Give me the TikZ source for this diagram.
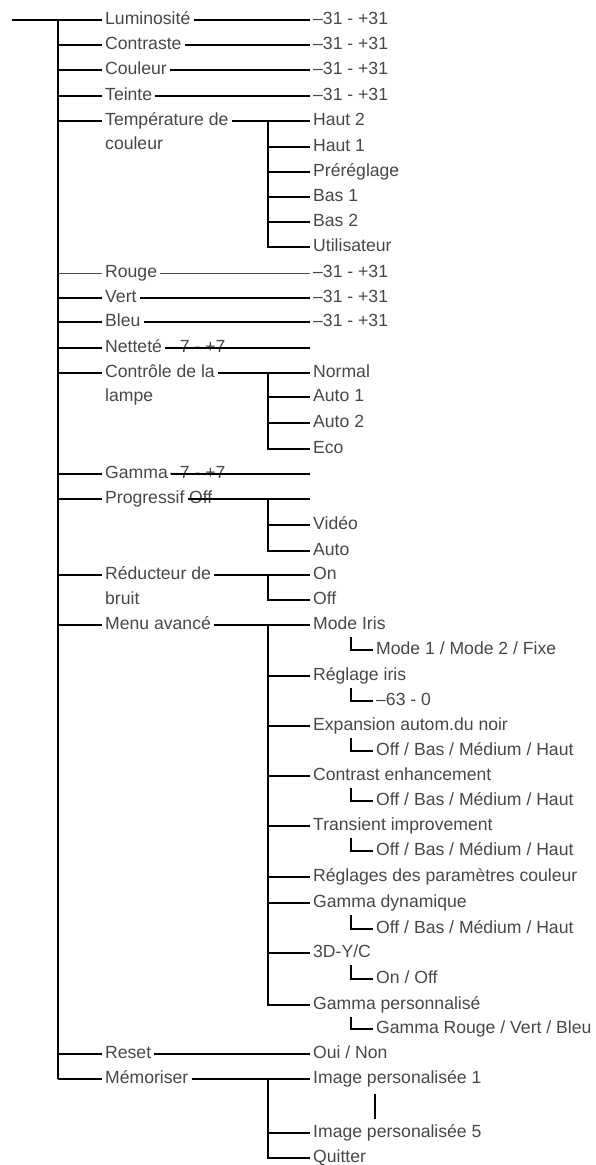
\documentclass[tikz,border=0pt]{standalone}
\usepackage{fontspec}
\setmainfont{Liberation Sans}
\begin{document}
\fontsize{17.6}{20}\selectfont
\begin{tikzpicture}[x=1pt,y=-1pt,
  lbl/.style={anchor=mid west,inner xsep=3pt,inner ysep=0pt,text=black!72,font=\fontsize{17.6}{20}\selectfont},
  ln/.style={draw=black,line width=1.8pt},
  lnthin/.style={draw=black!70,line width=0.9pt}]
\useasboundingbox (0,0) rectangle (596,1165);
% ---- main labels
\node[lbl] (lum) at (102,20) {Luminosité};
\node[lbl] (con) at (102,45) {Contraste};
\node[lbl] (cou) at (102,70) {Couleur};
\node[lbl] (tei) at (102,96) {Teinte};
\node[lbl] (tem) at (102,121) {Température de};
\node[lbl] (tem2) at (102,145) {couleur};
\node[lbl] (rou) at (102,273) {Rouge};
\node[lbl] (ver) at (102,298) {Vert};
\node[lbl] (ble) at (102,322) {Bleu};
\node[lbl] (net) at (102,348) {Netteté};
\node[lbl] (netv) at (167,348) {–7 - +7};
\node[lbl] (ctl) at (102,373) {Contrôle de la};
\node[lbl] (ctl2) at (102,397) {lampe};
\node[lbl] (gam) at (102,474) {Gamma};
\node[lbl] (gamv) at (167,474) {–7 - +7};
\node[lbl] (pro) at (102,499) {Progressif};
\node[lbl] (prov) at (186,499) {Off};
\node[lbl] (red) at (102,575) {Réducteur de};
\node[lbl] (red2) at (102,600) {bruit};
\node[lbl] (men) at (102,625) {Menu avancé};
\node[lbl] (res) at (102,1054) {Reset};
\node[lbl] (mem) at (102,1079) {Mémoriser};
% ---- values
\node[lbl] (vlum) at (310,20) {–31 - +31};
\node[lbl] (vcon) at (310,45) {–31 - +31};
\node[lbl] (vcou) at (310,70) {–31 - +31};
\node[lbl] (vtei) at (310,96) {–31 - +31};
\node[lbl] (h2) at (310,121) {Haut 2};
\node[lbl] (h1) at (310,147) {Haut 1};
\node[lbl] (pre) at (310,172) {Préréglage};
\node[lbl] (b1) at (310,197) {Bas 1};
\node[lbl] (b2) at (310,222) {Bas 2};
\node[lbl] (uti) at (310,247) {Utilisateur};
\node[lbl] (vrou) at (310,273) {–31 - +31};
\node[lbl] (vver) at (310,298) {–31 - +31};
\node[lbl] (vble) at (310,322) {–31 - +31};
\node[lbl] (nor) at (310,373) {Normal};
\node[lbl] (au1) at (310,397) {Auto 1};
\node[lbl] (au2) at (310,423) {Auto 2};
\node[lbl] (eco) at (310,449) {Eco};
\node[lbl] (vid) at (310,525) {Vidéo};
\node[lbl] (aut) at (310,551) {Auto};
\node[lbl] (on) at (310,575) {On};
\node[lbl] (off) at (310,600) {Off};
\node[lbl] (mi) at (310,625) {Mode Iris};
\node[lbl] (mi2) at (373,650) {Mode 1 / Mode 2 / Fixe};
\node[lbl] (ri) at (310,676) {Réglage iris};
\node[lbl] (ri2) at (373,701) {–63 - 0};
\node[lbl] (ex) at (310,726) {Expansion autom.du noir};
\node[lbl] (ex2) at (373,751) {Off / Bas / Médium / Haut};
\node[lbl] (ce) at (310,776) {Contrast enhancement};
\node[lbl] (ce2) at (373,801) {Off / Bas / Médium / Haut};
\node[lbl] (ti) at (310,826) {Transient improvement};
\node[lbl] (ti2) at (373,851) {Off / Bas / Médium / Haut};
\node[lbl] (rp) at (310,877) {Réglages des paramètres couleur};
\node[lbl] (gd) at (310,903) {Gamma dynamique};
\node[lbl] (gd2) at (373,929) {Off / Bas / Médium / Haut};
\node[lbl] (yc) at (310,953) {3D-Y/C};
\node[lbl] (yc2) at (373,979) {On / Off};
\node[lbl] (gp) at (310,1005) {Gamma personnalisé};
\node[lbl] (gp2) at (373,1029) {Gamma Rouge / Vert / Bleu};
\node[lbl] (oui) at (310,1054) {Oui / Non};
\node[lbl] (im1) at (310,1079) {Image personalisée 1};
\node[lbl] (im5) at (310,1133) {Image personalisée 5};
\node[lbl] (qui) at (310,1158) {Quitter};
% ---- coordinates
\coordinate (root) at (12,20);
\coordinate (trtop) at (58,20);
\coordinate (trbot) at (58,1079);
\foreach \n/\y in {lum/20,con/45,cou/70,tei/96,tem/121,rou/273,ver/298,ble/322,net/348,ctl/373,gam/474,pro/499,red/575,men/625,res/1054,mem/1079}
  \coordinate (t\n) at (58,\y);
\coordinate (netend) at (310,348);
\coordinate (gamend) at (310,474);
\coordinate (proend) at (310,499);
\coordinate (jtem) at (268,121);
\coordinate (jctl) at (268,373);
\coordinate (jpro) at (268,499);
\coordinate (jred) at (268,575);
\coordinate (jmen) at (268,625);
\coordinate (jmem) at (268,1079);
\coordinate (cmi) at (351,637);
\coordinate (cri) at (351,688);
\coordinate (cex) at (351,738);
\coordinate (cce) at (351,788);
\coordinate (cti) at (351,838);
\coordinate (cgd) at (351,915);
\coordinate (cyc) at (351,965);
\coordinate (cgp) at (351,1017);
\coordinate (bartop) at (375,1094);
\coordinate (barbot) at (375,1119);
% ---- trunk
\draw[ln] (root) -- (trtop) -- (trbot);
\foreach \n in {lum,con,cou,tei,tem,ver,ble,net,ctl,gam,pro,red,men,res,mem}
  \draw[ln] (t\n) -- (\n.mid west);
\draw[lnthin] (trou) -- (rou.mid west);
% ---- direct value lines
\draw[ln] (lum.mid east) -- (vlum.mid west);
\draw[ln] (con.mid east) -- (vcon.mid west);
\draw[ln] (cou.mid east) -- (vcou.mid west);
\draw[ln] (tei.mid east) -- (vtei.mid west);
\draw[lnthin] (rou.mid east) -- (vrou.mid west);
\draw[ln] (ver.mid east) -- (vver.mid west);
\draw[ln] (ble.mid east) -- (vble.mid west);
\draw[ln] (net.mid east) -- (netend);
\draw[ln] (gam.mid east) -- (gamend);
\draw[ln] (pro.mid east) -- (proend);
\draw[ln] (res.mid east) -- (oui.mid west);
% ---- sub brackets
\draw[ln] (tem.mid east) -- (h2.mid west);
\foreach \c in {h1,pre,b1,b2,uti} \draw[ln] (jtem) |- (\c.mid west);
\draw[ln] (ctl.mid east) -- (nor.mid west);
\foreach \c in {au1,au2,eco} \draw[ln] (jctl) |- (\c.mid west);
\foreach \c in {vid,aut} \draw[ln] (jpro) |- (\c.mid west);
\draw[ln] (red.mid east) -- (on.mid west);
\draw[ln] (jred) |- (off.mid west);
\draw[ln] (men.mid east) -- (mi.mid west);
\foreach \c in {ri,ex,ce,ti,rp,gd,yc,gp} \draw[ln] (jmen) |- (\c.mid west);
\draw[ln] (mem.mid east) -- (im1.mid west);
\foreach \c in {im5,qui} \draw[ln] (jmem) |- (\c.mid west);
% ---- sub-sub L brackets
\draw[ln] (cmi) |- (mi2.mid west);
\draw[ln] (cri) |- (ri2.mid west);
\draw[ln] (cex) |- (ex2.mid west);
\draw[ln] (cce) |- (ce2.mid west);
\draw[ln] (cti) |- (ti2.mid west);
\draw[ln] (cgd) |- (gd2.mid west);
\draw[ln] (cyc) |- (yc2.mid west);
\draw[ln] (cgp) |- (gp2.mid west);
\draw[ln] (bartop) -- (barbot);
\end{tikzpicture}
\end{document}
